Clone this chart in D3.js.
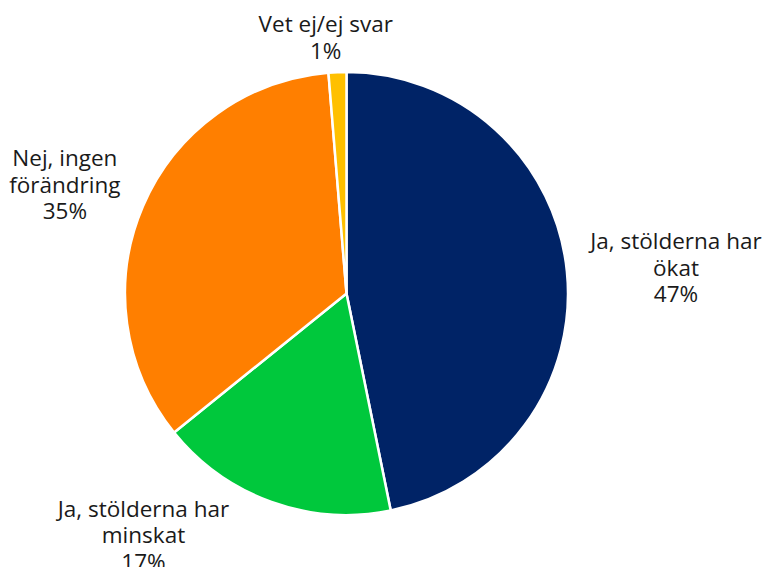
<!DOCTYPE html>
<html>
<head>
<meta charset="utf-8">
<script src="https://cdn.jsdelivr.net/npm/d3@7"></script>
<style>
  body { margin: 0; background: #fff; }
  svg { display: block; }
  text { font-family: "Open Sans", Lato, sans-serif; fill: #1a1a1a; }
</style>
</head>
<body>
<svg id="chart" width="764" height="567"></svg>
<script>
// answer categories (each label split into lines)
const categories = [
  ['Ja, stölderna har', 'ökat'],
  ['Ja, stölderna har', 'minskat'],
  ['Nej, ingen', 'förändring'],
  ['Vet ej/ej svar']
]
// share of answers, percent
const shares = [46.8, 17.4, 34.5, 1.3]
const colors = ['#002366', '#00c83c', '#ff7f00', '#ffc000']

// label nudges away from the label arc (layout only)
const labelNudge = [[43, 3], [-105.5, -29], [-17, 4.5], [-9, 32]]

const cx = 346.5
const cy = 293.5
const radius = 221.5
const lineHeight = 26.8

const svg = d3.select('#chart')
const g = svg.append('g').attr('transform', `translate(${cx},${cy})`)

const pie = d3.pie().sort(null).value(d => d)
const arcs = pie(shares)

const arc = d3.arc().innerRadius(0).outerRadius(radius)
const labelArc = d3.arc().innerRadius(radius * 1.3).outerRadius(radius * 1.3)

g.selectAll('path.slice')
  .data(arcs)
  .enter()
  .append('path')
  .attr('class', 'slice')
  .attr('d', arc)
  .attr('fill', (d, i) => colors[i])
  .attr('stroke', '#fff')
  .attr('stroke-width', 2.5)
  .attr('stroke-linejoin', 'round')

const labels = g.selectAll('text.label')
  .data(arcs)
  .enter()
  .append('text')
  .attr('class', 'label')
  .attr('text-anchor', 'middle')
  .style('font-size', '22.5px')
  .attr('transform', (d, i) => {
    const [x, y] = labelArc.centroid(d)
    return `translate(${x + labelNudge[i][0]},${y + labelNudge[i][1]})`
  })

labels.each(function (d, i) {
  const lines = categories[i].concat([Math.round(d.value) + '%'])
  const top = -(lines.length - 1) * lineHeight / 2
  d3.select(this)
    .selectAll('tspan')
    .data(lines)
    .enter()
    .append('tspan')
    .attr('x', 0)
    .attr('y', (l, j) => top + j * lineHeight)
    .attr('dy', '0.357em')
    .text(l => l)
})
</script>
</body>
</html>
